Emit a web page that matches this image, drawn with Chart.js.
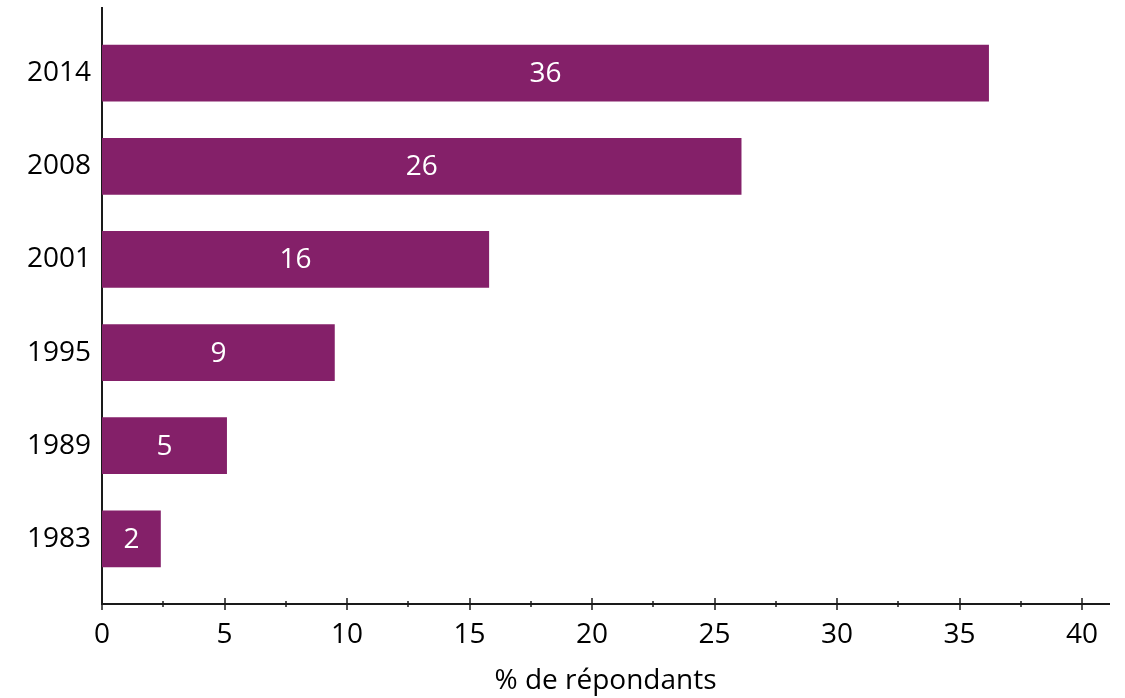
<!DOCTYPE html>
<html>
<head>
<meta charset="utf-8">
<script src="https://cdn.jsdelivr.net/npm/chart.js@4"></script>
<style>
  html, body { margin: 0; padding: 0; background: #fff; }
  #wrap { width: 1125px; height: 698px; }
</style>
</head>
<body>
<div id="wrap"><canvas id="respChart" width="1125" height="698"></canvas></div>
<script>
// bottom to top
const years = ["1983", "1989", "1995", "2001", "2008", "2014"];
const values = [2.4, 5.1, 9.5, 15.8, 26.1, 36.2];
const valueLabels = ["2", "5", "9", "16", "26", "36"];
const xTicks = [0, 2.5, 5, 7.5, 10, 12.5, 15, 17.5, 20, 22.5, 25, 27.5, 30, 32.5, 35, 37.5, 40];

const FONT = "'Open Sans', 'Noto Sans', sans-serif";
const barColor = "#842069";

// white value labels in the middle of each bar
const barLabels = {
  id: "barLabels",
  afterDatasetsDraw(chart) {
    const ctx = chart.ctx;
    const meta = chart.getDatasetMeta(0);
    ctx.save();
    ctx.fillStyle = "#fff";
    ctx.font = "28px " + FONT;
    ctx.textAlign = "center";
    ctx.textBaseline = "middle";
    meta.data.forEach((bar, i) => {
      const p = bar.getProps(["x", "y", "base"], true);
      ctx.fillText(valueLabels[i], (p.x + p.base) / 2, p.y + 1);
    });
    ctx.restore();
  },
};

// tick marks crossing the x axis, minor ones shorter
const crossTicks = {
  id: "crossTicks",
  afterDraw(chart) {
    const ctx = chart.ctx;
    const xs = chart.scales.x;
    const y0 = chart.chartArea.bottom;
    ctx.save();
    ctx.strokeStyle = "#1a1a1a";
    ctx.lineWidth = 1.5;
    xTicks.forEach((v) => {
      const px = Math.round(xs.getPixelForValue(v));
      const h = v % 5 === 0 ? 6 : 3;
      ctx.beginPath();
      ctx.moveTo(px, y0 - h);
      ctx.lineTo(px, y0 + h);
      ctx.stroke();
    });
    ctx.restore();
  },
};

const ctx = document.getElementById("respChart").getContext("2d");
new Chart(ctx, {
  type: "bar",
  data: {
    datasets: [
      {
        data: values.map((v, i) => ({ x: v, y: i })),
        backgroundColor: barColor,
        borderWidth: 0,
        barPercentage: 0.61,
        categoryPercentage: 1,
      },
    ],
  },
  options: {
    indexAxis: "y",
    responsive: false,
    animation: false,
    layout: { padding: { top: 8, right: 16, left: 0, bottom: 0 } },
    plugins: { legend: { display: false }, tooltip: { enabled: false } },
    scales: {
      x: {
        type: "linear",
        min: 0,
        max: 41.1,
        grid: { display: false, drawTicks: false },
        border: { display: true, color: "#1a1a1a", width: 2 },
        afterBuildTicks(scale) {
          scale.ticks = xTicks.filter((v) => v % 5 === 0).map((v) => ({ value: v }));
        },
        ticks: {
          color: "#000",
          font: { family: FONT, size: 28 },
          padding: 14,
          maxRotation: 0,
          autoSkip: false,
        },
        title: {
          display: true,
          text: "% de répondants",
          color: "#000",
          font: { family: FONT, size: 28 },
          padding: { top: 0, bottom: 0 },
        },
        afterFit(scale) {
          scale.height = 94;
          scale.paddingLeft = 0;
          scale.paddingRight = 0;
        },
      },
      y: {
        type: "linear",
        min: -0.7,
        max: 5.7,
        offset: false,
        grid: { display: false, drawTicks: false },
        border: { display: true, color: "#1a1a1a", width: 2 },
        afterBuildTicks(scale) {
          scale.ticks = years.map((y, i) => ({ value: i }));
        },
        ticks: {
          color: "#000",
          font: { family: FONT, size: 28 },
          padding: 11,
          autoSkip: false,
          callback: (v) => years[v],
        },
        afterFit(scale) {
          scale.width = 102;
          scale.paddingTop = 0;
          scale.paddingBottom = 0;
        },
      },
    },
  },
  plugins: [barLabels, crossTicks],
});
</script>
</body>
</html>
